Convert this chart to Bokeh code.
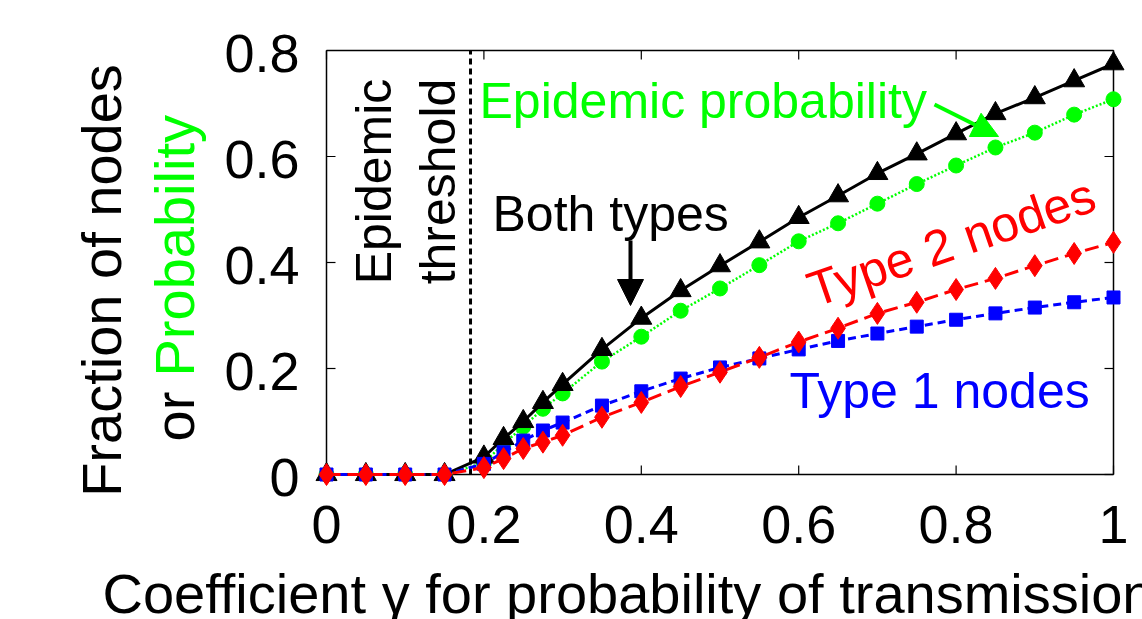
import math
from bokeh.plotting import figure
from bokeh.models import Range1d, Label, Arrow, NormalHead
from bokeh.core.properties import value
from bokeh.embed import file_html
from bokeh.resources import INLINE

# ---------------- data ----------------
gamma = [0, 0.05, 0.1, 0.15, 0.2, 0.225, 0.25, 0.275, 0.3, 0.35, 0.4, 0.45, 0.5,
         0.55, 0.6, 0.65, 0.7, 0.75, 0.8, 0.85, 0.9, 0.95, 1.0]
both_types = [0, 0, 0, 0, 0.033, 0.068, 0.100, 0.136, 0.170, 0.236, 0.295, 0.347, 0.394,
              0.439, 0.485, 0.526, 0.568, 0.605, 0.643, 0.681, 0.711, 0.743, 0.775]
epidemic_prob = [0, 0, 0, 0, 0.022, 0.058, 0.090, 0.124, 0.153, 0.213, 0.260, 0.309, 0.351,
                 0.395, 0.440, 0.474, 0.511, 0.548, 0.583, 0.617, 0.645, 0.679, 0.708]
type2_nodes = [0, 0, 0, 0, 0.013, 0.030, 0.049, 0.061, 0.074, 0.108, 0.136, 0.166, 0.193,
               0.221, 0.250, 0.276, 0.304, 0.325, 0.349, 0.370, 0.394, 0.417, 0.438]
type1_nodes = [0, 0, 0, 0, 0.020, 0.042, 0.064, 0.083, 0.098, 0.130, 0.157, 0.181, 0.202,
               0.219, 0.236, 0.252, 0.266, 0.279, 0.292, 0.304, 0.315, 0.325, 0.334]
threshold = 0.183

x_ticks = [0, 0.2, 0.4, 0.6, 0.8, 1]
x_tick_labels = ["0", "0.2", "0.4", "0.6", "0.8", "1"]
y_ticks = [0, 0.2, 0.4, 0.6, 0.8]
y_tick_labels = ["0", "0.2", "0.4", "0.6", "0.8"]
XMIN, XMAX, YMIN, YMAX = 0.0, 1.0, 0.0, 0.8

# ---------------- layout (pixels) ----------------
W, H = 1142, 619
BX0, BX1, BY0, BY1 = 326, 1113, 474, 50      # data box in pixels
sx = (BX1 - BX0) / (XMAX - XMIN)
sy = (BY0 - BY1) / (YMAX - YMIN)

def dx(px):
    return XMIN + (px - BX0) / sx

def dy(py):
    return YMIN + (BY0 - py) / sy

FONT = "Liberation Sans"
GREEN = "#00ff00"

p = figure(width=W, height=H, output_backend="svg", toolbar_location=None,
           x_range=Range1d(dx(0), dx(W)), y_range=Range1d(dy(H), dy(0)),
           min_border_left=0, min_border_right=0, min_border_top=0, min_border_bottom=0,
           x_axis_location=None, y_axis_location=None)
p.outline_line_color = None
p.grid.visible = False
p.background_fill_color = "white"
p.border_fill_color = "white"

# box
p.segment(x0=[XMIN, XMAX, XMIN, XMIN], y0=[YMIN, YMIN, YMIN, YMAX],
          x1=[XMIN, XMAX, XMAX, XMAX], y1=[YMAX, YMAX, YMIN, YMAX],
          line_color="black", line_width=1.5)
# inside ticks (mirrored)
tl_x = 9 / sx
tl_y = 9 / sy
nx, ny = len(x_ticks), len(y_ticks)
p.segment(x0=x_ticks, y0=[YMIN] * nx, x1=x_ticks, y1=[YMIN + tl_y] * nx,
          line_color="black", line_width=1.2)
p.segment(x0=x_ticks, y0=[YMAX] * nx, x1=x_ticks, y1=[YMAX - tl_y] * nx,
          line_color="black", line_width=1.2)
p.segment(x0=[XMIN] * ny, y0=y_ticks, x1=[XMIN + tl_x] * ny, y1=y_ticks,
          line_color="black", line_width=1.2)
p.segment(x0=[XMAX] * ny, y0=y_ticks, x1=[XMAX - tl_x] * ny, y1=y_ticks,
          line_color="black", line_width=1.2)

# tick labels
p.text(x=[dx(299)] * ny, y=[t - 3 / sy for t in y_ticks], text=y_tick_labels,
       text_font=value(FONT), text_font_size=value("54px"), text_color="black",
       text_align="right", text_baseline="middle")
p.text(x=x_ticks, y=[dy(524)] * nx, text=x_tick_labels,
       text_font=value(FONT), text_font_size=value("54px"), text_color="black",
       text_align="center", text_baseline="middle")

# epidemic threshold
p.line([threshold, threshold], [YMIN, YMAX], line_color="black", line_width=3, line_dash="6 4")

# series
p.line(gamma, epidemic_prob, line_color=GREEN, line_width=2.5, line_dash="2 2")
p.scatter(gamma, epidemic_prob, marker="circle", size=15, fill_color=GREEN, line_color=GREEN)

p.line(gamma, both_types, line_color="black", line_width=3)
p.scatter(gamma, both_types, marker="triangle", size=21, fill_color="black", line_color="black")

p.line(gamma, type1_nodes, line_color="blue", line_width=3, line_dash="8 5")
p.scatter(gamma, type1_nodes, marker="square", size=13, fill_color="blue", line_color="blue")

p.line(gamma, type2_nodes, line_color="red", line_width=3, line_dash="14 7")
p.scatter(gamma, type2_nodes, marker="diamond", size=22, fill_color="red", line_color="red")

# ---------------- texts ----------------
def lab(text, px, py, size, color="black", angle=0.0, align="left"):
    p.add_layout(Label(x=dx(px), y=dy(py), text=text, text_font=FONT, text_font_size=size,
                       text_color=color, angle=angle, text_align=align, text_baseline="middle"))

# axis titles
lab("Fraction of nodes", 101, 280, "56px", angle=math.pi / 2, align="center")
lab("or ", 174, 441, "56px", angle=math.pi / 2)
lab("Probability", 174, 376, "56px", color=GREEN, angle=math.pi / 2)
lab("Coefficient \u03b3 for probability of transmission", 102, 593, "56px")

# annotations
lab("Epidemic", 373, 181, "50px", angle=math.pi / 2, align="center")
lab("threshold", 437, 181, "50px", angle=math.pi / 2, align="center")
lab("Epidemic probability", 479, 100, "50px", color=GREEN)
lab("Both types", 492, 213, "50px")
lab("Type 1 nodes", 789, 390, "50px", color="blue")
lab("Type 2 nodes", 951, 242, "50px", color="red", angle=math.radians(19), align="center")

p.add_layout(Arrow(end=NormalHead(size=26, fill_color="black", line_color="black"),
                   x_start=dx(630), y_start=dy(240), x_end=dx(630), y_end=dy(305),
                   line_color="black", line_width=4))
p.add_layout(Arrow(end=NormalHead(size=26, fill_color=GREEN, line_color=GREEN),
                   x_start=dx(934), y_start=dy(104), x_end=dx(998), y_end=dy(136),
                   line_color=GREEN, line_width=4))

open("out.html", "w").write(file_html(p, INLINE))
